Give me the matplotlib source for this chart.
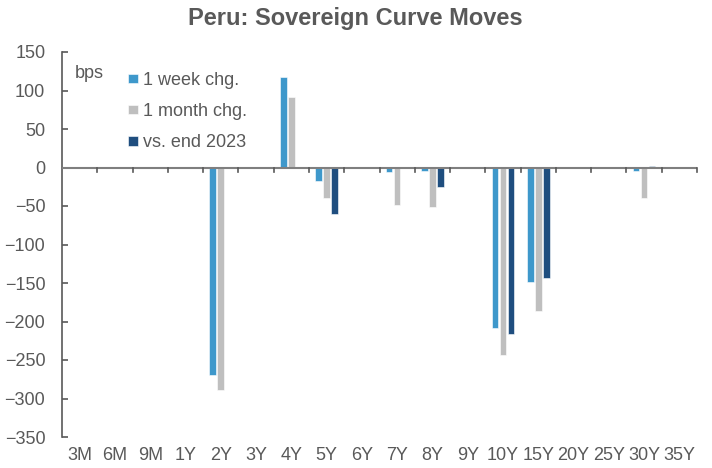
import matplotlib
matplotlib.use("Agg")
import matplotlib.pyplot as plt
import numpy as np

plt.rcParams['font.family'] = ['Liberation Sans', 'DejaVu Sans']

categories = ["3M", "6M", "9M", "1Y", "2Y", "3Y", "4Y", "5Y", "6Y", "7Y", "8Y", "9Y",
              "10Y", "15Y", "20Y", "25Y", "30Y", "35Y"]
nan = np.nan
week_chg = [nan, nan, nan, nan, -269, nan, 118, -18, nan, -6, -4, nan,
            -208, -149, nan, nan, -4, nan]
month_chg = [nan, nan, nan, nan, -289, nan, 92, -40, nan, -49, -51, nan,
             -243, -187, nan, nan, -40, nan]
vs_end2023 = [nan, nan, nan, nan, nan, nan, nan, -61, nan, nan, -25, nan,
              -216, -143, nan, nan, 2, nan]
series_names = ["1 week chg.", "1 month chg.", "vs. end 2023"]
colors = ["#3E98CB", "#BFBFBF", "#1F4E7F"]

fig = plt.figure(figsize=(7.12, 4.68), dpi=100)
ax = fig.add_axes([62/712, 1-437/468, (697-62)/712, (437-52)/468])

x = np.arange(len(categories))
w = 0.19
offs = [-0.227, 0.0, 0.227]
for vals, off, c, name in zip([week_chg, month_chg, vs_end2023], offs, colors, series_names):
    ax.bar(x + off, vals, width=w, color=c, label=name, edgecolor='white', linewidth=0.4)

ax.set_xlim(-0.5, len(categories) - 0.5)
ax.set_ylim(-350, 150)
ax.set_yticks(np.arange(-350, 151, 50))
ax.tick_params(axis='y', direction='in', length=4, width=1.2, color='#595959',
               labelsize=13, labelcolor='#595959', pad=12)
ax.set_xticks(x)
ax.set_xticklabels(categories, fontsize=13, color='#595959')
ax.tick_params(axis='x', length=0, pad=7)

for s in ['top', 'right', 'bottom']:
    ax.spines[s].set_visible(False)
ax.spines['left'].set_color('#595959')
ax.spines['left'].set_linewidth(1.2)

# zero line with boundary ticks
ax.axhline(0, color='#7F7F7F', linewidth=1.5, zorder=3)
for b in np.arange(0.5, len(categories) + 0.5, 1.0):
    ax.plot([b, b], [0, -6], color='#595959', linewidth=1.2, zorder=3, clip_on=False)

ax.text(13/635, 1 - 13/385, "bps", transform=ax.transAxes, fontsize=13, color='#595959',
        va='top', ha='left')

leg = ax.legend(loc='upper left', bbox_to_anchor=(0.092, 0.967), frameon=False,
                fontsize=13, handlelength=0.6, handleheight=0.45, handletextpad=0.25,
                labelspacing=0.78, labelcolor='#595959', borderaxespad=0)

fig.suptitle("Peru: Sovereign Curve Moves", x=(185+525)/2/712, y=1-7/468, va='top',
             fontsize=17, fontweight='bold', color='#595959')

fig.savefig("out.png", dpi=100)
